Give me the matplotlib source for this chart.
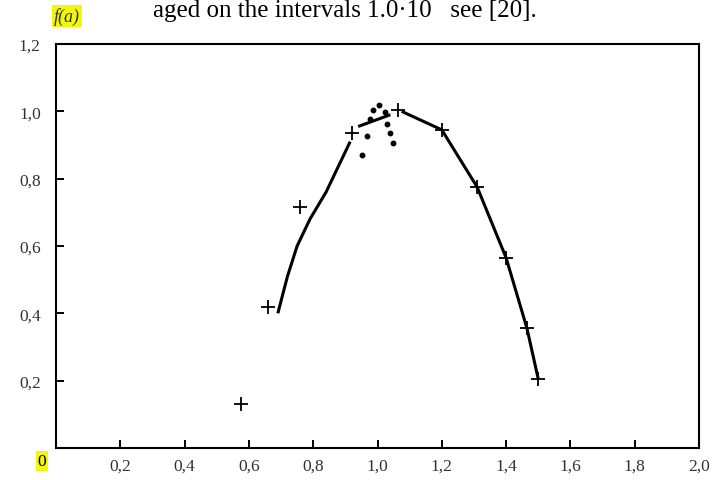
import numpy as np
import matplotlib.pyplot as plt

# measured points (+)
cross_x = [0.575, 0.66, 0.76, 0.92, 1.065, 1.20, 1.31, 1.40, 1.465, 1.50]
cross_y = [0.13, 0.42, 0.715, 0.935, 1.005, 0.945, 0.775, 0.565, 0.355, 0.205]

# dots near the peak
dot_x = [1.004, 0.986, 1.023, 0.977, 1.03, 0.967, 1.04, 1.048, 0.951]
dot_y = [1.018, 1.003, 0.997, 0.976, 0.961, 0.928, 0.937, 0.907, 0.869]

# fitted curve, three pieces
line1_x = [0.69, 0.72, 0.75, 0.79, 0.84, 0.88, 0.915]
line1_y = [0.40, 0.51, 0.60, 0.68, 0.76, 0.84, 0.91]
line2_x = [0.94, 1.04]
line2_y = [0.955, 0.99]
line3_x = [1.075, 1.20, 1.31, 1.40, 1.465, 1.50]
line3_y = [1.0, 0.945, 0.775, 0.565, 0.355, 0.205]

xticks = [0.2, 0.4, 0.6, 0.8, 1.0, 1.2, 1.4, 1.6, 1.8, 2.0]
yticks = [0.2, 0.4, 0.6, 0.8, 1.0, 1.2]

serif = ['Liberation Serif', 'DejaVu Serif']

fig = plt.figure(figsize=(7.13, 4.81), dpi=100)
ax = fig.add_axes([56/713, 1-449/481, (699-56)/713, (449-45)/481])

for lx, ly in [(line1_x, line1_y), (line2_x, line2_y), (line3_x, line3_y)]:
    ax.plot(lx, ly, color='black', lw=2.2, solid_capstyle='butt')
ax.plot(cross_x, cross_y, '+', color='black', ms=10, mew=1.3)
ax.plot(dot_x, dot_y, 'o', color='black', ms=3.2)

ax.set_xlim(0, 2.0)
ax.set_ylim(0, 1.2)
ax.set_xticks(xticks)
ax.set_yticks(yticks)
ax.set_xticklabels([('%.1f' % v).replace('.', ',') for v in xticks], family=serif, fontsize=12.5, color='#333333')
ax.set_yticklabels([('%.1f' % v).replace('.', ',') for v in yticks], family=serif, fontsize=12.5, color='#333333')
ax.tick_params(direction='in', length=6, width=1.4, pad=7)
ax.tick_params(axis='y', pad=11)
for s in ax.spines.values():
    s.set_linewidth(1.5)

fig.text(42/713, 1-462/481, '0', family=serif, fontsize=12.5, ha='center', va='center',
         bbox=dict(boxstyle='square,pad=0.1', fc='#f4f70a', ec='none'))
fig.text(67/713, 1-17/481, 'f(a)', family=serif, style='italic', fontsize=13, ha='center', va='center',
         color='#333333', bbox=dict(boxstyle='square,pad=0.1', fc='#f4f70a', ec='none'))
fig.text(153/713, 1-17/481, 'aged on the intervals 1.0·10   see [20].', family=serif,
         fontsize=18, ha='left', va='baseline')

fig.savefig('out.png', dpi=100, facecolor='white')
